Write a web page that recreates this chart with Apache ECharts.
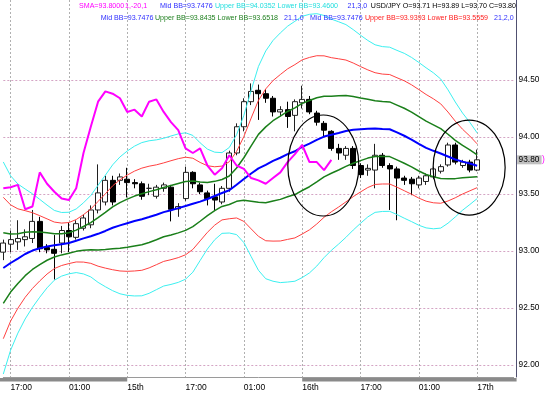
<!DOCTYPE html>
<html><head><meta charset="utf-8">
<script src="https://cdn.jsdelivr.net/npm/echarts@6/dist/echarts.min.js"></script>
<style>html,body{margin:0;padding:0;background:#fff}#c{width:549px;height:394px}</style>
</head><body><div id="c"></div>
<script>
// ---- data ----
const opens = [92.99, 93.06, 93.08, 93.10, 93.11, 93.26, 93.03, 93.015, 93.07, 93.18,
 93.12, 93.20, 93.23, 93.36, 93.43, 93.62, 93.62, 93.63, 93.60, 93.59,
 93.55, 93.48, 93.55, 93.56, 93.37, 93.46, 93.69, 93.58, 93.51, 93.475,
 93.43, 93.55, 93.86, 94.09, 94.31, 94.41, 94.38, 94.34, 94.22, 94.24,
 94.19, 94.30, 94.33, 94.21, 94.12, 94.05, 93.90, 93.84, 93.90, 93.75,
 93.71, 93.71, 93.84, 93.75, 93.72, 93.64, 93.63, 93.58, 93.61, 93.65,
 93.70, 93.755, 93.93, 93.75, 93.78, 93.71];
const closes = [93.07, 93.10, 93.11, 93.125, 93.26, 93.02, 93.01, 92.98, 93.18, 93.125,
 93.24, 93.29, 93.36, 93.51, 93.62, 93.43, 93.65, 93.60, 93.59, 93.48,
 93.55, 93.56, 93.58, 93.366, 93.39, 93.69, 93.59, 93.52, 93.46, 93.447,
 93.55, 93.86, 94.09, 94.31, 94.40, 94.38, 94.34, 94.22, 94.24, 94.18,
 94.31, 94.33, 94.22, 94.13, 94.06, 93.90, 93.86, 93.90, 93.75, 93.67,
 93.725, 93.84, 93.75, 93.72, 93.64, 93.62, 93.59, 93.64, 93.66, 93.72,
 93.74, 93.93, 93.78, 93.78, 93.71, 93.80];
const lows = [92.92, 92.99, 93.01, 93.04, 93.07, 92.99, 92.98, 92.75, 92.98, 92.99,
 93.10, 93.18, 93.20, 93.33, 93.40, 93.40, 93.58, 93.47, 93.55, 93.45,
 93.49, 93.46, 93.52, 93.26, 93.30, 93.44, 93.55, 93.50, 93.40, 93.36,
 93.41, 93.52, 93.84, 94.05, 94.28, 94.15, 94.30, 94.18, 94.18, 94.08,
 94.05, 94.25, 94.20, 94.10, 94.00, 93.88, 93.80, 93.80, 93.72, 93.64,
 93.66, 93.55, 93.73, 93.36, 93.27, 93.58, 93.49, 93.55, 93.58, 93.63,
 93.68, 93.74, 93.76, 93.73, 93.69, 93.70];
const highs = [93.10, 93.18, 93.27, 93.19, 93.36, 93.30, 93.06, 93.14, 93.22, 93.25,
 93.27, 93.32, 93.40, 93.76, 93.66, 93.66, 93.68, 93.73, 93.63, 93.61,
 93.59, 93.58, 93.60, 93.58, 93.42, 93.74, 93.70, 93.60, 93.53, 93.59,
 93.57, 93.88, 94.12, 94.34, 94.47, 94.46, 94.42, 94.36, 94.27, 94.31,
 94.33, 94.45, 94.36, 94.23, 94.14, 94.06, 93.94, 93.92, 93.92, 93.77,
 93.76, 93.94, 93.86, 93.77, 93.74, 93.66, 93.65, 93.66, 93.68, 93.74,
 93.76, 93.95, 93.95, 93.80, 93.80, 93.89];
// magenta SMA(1) shifted -20 bars
const smaShift = [93.55, 93.56, 93.58, 93.366, 93.39, 93.69, 93.59, 93.52, 93.46, 93.447,
 93.55, 93.86, 94.09, 94.31, 94.40, 94.38, 94.34, 94.22, 94.24, 94.18,
 94.31, 94.33, 94.22, 94.13, 94.06, 93.90, 93.86, 93.90, 93.75, 93.67,
 93.725, 93.84, 93.75, 93.72, 93.64, 93.62, 93.59, 93.64, 93.69, 93.78,
 93.85, 93.93, 93.78, 93.78, 93.71, 93.80];
// Bollinger mid (21) and one standard deviation
const bbMid = [92.851, 92.895, 92.934, 92.974, 93.004, 93.024, 93.040, 93.050, 93.059, 93.070,
 93.090, 93.111, 93.130, 93.151, 93.176, 93.204, 93.225, 93.244, 93.263, 93.279,
 93.298, 93.318, 93.341, 93.358, 93.376, 93.395, 93.414, 93.433, 93.456, 93.483,
 93.509, 93.533, 93.582, 93.632, 93.680, 93.725, 93.756, 93.791, 93.818, 93.850,
 93.875, 93.913, 93.942, 93.975, 94.004, 94.020, 94.036, 94.053, 94.063, 94.068,
 94.073, 94.074, 94.070, 94.068, 94.040, 94.011, 93.978, 93.940, 93.905, 93.879,
 93.855, 93.829, 93.803, 93.784, 93.768, 93.748];
const bbDev = [0.310, 0.255, 0.218, 0.190, 0.166, 0.143, 0.121, 0.102, 0.093, 0.090,
 0.093, 0.104, 0.119, 0.142, 0.163, 0.184, 0.200, 0.211, 0.219, 0.224,
 0.223, 0.219, 0.216, 0.217, 0.217, 0.214, 0.200, 0.172, 0.146, 0.128,
 0.118, 0.125, 0.146, 0.186, 0.243, 0.298, 0.333, 0.352, 0.365, 0.374,
 0.380, 0.382, 0.378, 0.369, 0.354, 0.338, 0.325, 0.311, 0.293, 0.275,
 0.258, 0.245, 0.241, 0.240, 0.240, 0.241, 0.240, 0.238, 0.234, 0.228,
 0.218, 0.195, 0.168, 0.142, 0.120, 0.096];
const tickBars = [1, 9, 17, 25, 33, 41, 49, 57, 65];
const tickLabels = ['17:00', '01:00', '15th', '17:00', '01:00', '16th', '17:00', '01:00', '17th'];
const yTicks = [92, 92.5, 93, 93.5, 94, 94.5];
const nCats = 71;
// annotation ellipses in data units (bar index, price)
const ellipses = [
  {bar: 43.9, price: 93.75, rBars: 4.87, rPrice: 0.443},
  {bar: 63.9, price: 93.732, rBars: 4.94, rPrice: 0.417}
];

// ---- build ----
const cats = Array.from({length: nCats}, (_, i) => String(i));
const ohlc = opens.map((o, i) => [o, closes[i], lows[i], highs[i]]);
const band = k => bbMid.map((m, i) => +(m + k * bbDev[i]).toFixed(4));
const isTick = i => tickBars.indexOf(i) >= 0;
const FONT = '"Liberation Sans", Arial, sans-serif';

function lineS(name, data, color, width, z) {
  return {type: 'line', name, data, showSymbol: false, symbol: 'none', z: z || 3,
    lineStyle: {color, width}, itemStyle: {color}, silent: true};
}

const chart = echarts.init(document.getElementById('c'), null, {renderer: 'canvas'});
chart.setOption({
  animation: false,
  backgroundColor: '#ffffff',
  grid: {left: 3.3, right: 35.4, top: 0, bottom: 17, containLabel: false},
  xAxis: {
    type: 'category', data: cats, boundaryGap: false,
    axisLine: {show: true, lineStyle: {color: '#9a9a9a', width: 1}},
    axisTick: {show: false},
    axisLabel: {interval: (i) => isTick(i), formatter: (v, i) => tickLabels[tickBars.indexOf(+v)] || '',
      align: 'left', fontSize: 8.5, color: '#000', margin: 6, fontFamily: FONT},
    splitLine: {show: true, interval: (i) => isTick(i), lineStyle: {color: '#b0b0b0', type: [2, 2], width: 1}}
  },
  yAxis: {
    type: 'value', position: 'right', offset: 3, min: 91.895, max: 95.2018,
    axisLine: {show: true, lineStyle: {color: '#505070', width: 1}},
    axisTick: {show: false, customValues: yTicks},
    axisLabel: {customValues: yTicks, formatter: v => Number(v).toFixed(2), fontSize: 8.3, color: '#000', margin: 2, fontFamily: FONT},
    splitLine: {show: true, lineStyle: {color: '#d4a4c4', type: [2, 2], width: 1}}
  },
  series: [
    {type: 'candlestick', data: ohlc, barWidth: 5.5, z: 2,
      itemStyle: {color: '#ffffff', color0: '#000000', borderColor: '#202020', borderColor0: '#000000', borderWidth: 1}},
    lineS('upper3', band(3), '#3cf0f0', 1),
    lineS('lower3', band(-3), '#3cf0f0', 1),
    lineS('upper2', band(2), '#ff4040', 1),
    lineS('lower2', band(-2), '#ff4040', 1),
    lineS('upper1', band(1), '#1a7f1a', 1.5),
    lineS('lower1', band(-1), '#1a7f1a', 1.5),
    lineS('mid', bbMid, '#0000ff', 2, 4),
    lineS('sma', smaShift, '#ff00ff', 2, 4)
  ]
});

// ---- annotations positioned through the axes ----
const x0 = chart.convertToPixel({xAxisIndex: 0}, 0);
const x70 = chart.convertToPixel({xAxisIndex: 0}, nCats - 1);
const bx = b => x0 + (x70 - x0) * b / (nCats - 1);
const py = p => chart.convertToPixel({yAxisIndex: 0}, p);
const axisX = x70 + 3;

const g = [];
ellipses.forEach(e => {
  const cx = bx(e.bar), cy = py(e.price);
  g.push({type: 'ellipse', z: 20, silent: true,
    shape: {cx, cy, rx: bx(e.bar + e.rBars) - cx, ry: py(e.price - e.rPrice) - cy},
    style: {fill: 'none', stroke: '#000', lineWidth: 1.2}});
});
// thick segments on the time axis
const yb = py(91.895);
g.push({type: 'rect', z: 5, silent: true, shape: {x: 0, y: yb + 1, width: bx(17), height: 3.4}, style: {fill: '#8a8a8a'}});
g.push({type: 'rect', z: 5, silent: true, shape: {x: bx(41), y: yb + 1, width: axisX - bx(41), height: 3.4}, style: {fill: '#8a8a8a'}});
// last price tag
const lastY = py(closes[closes.length - 1]);
g.push({type: 'rect', z: 6, silent: true, shape: {x: axisX + 0.5, y: lastY - 4.5, width: 24.5, height: 9}, style: {fill: '#c0c0c0'}});
g.push({type: 'text', z: 7, silent: true, style: {x: axisX + 2, y: lastY, text: closes[closes.length - 1].toFixed(2),
  font: '8.3px ' + FONT, fill: '#000', verticalAlign: 'middle'}});
g.push({type: 'text', z: 7, silent: true, style: {x: axisX + 25.5, y: lastY, text: ')',
  font: '8.5px ' + FONT, fill: '#ff00ff', verticalAlign: 'middle'}});
// header texts [x, y, text, colour, align]
const hdr = [
  [79, 6.1, 'SMA=93.8000', '#ff00ff', 'left'],
  [125, 6.1, '1,-20,1', '#ff00ff', 'left'],
  [160, 6.1, 'Mid BB=93.7476', '#3030ff', 'left'],
  [215, 6.1, 'Upper BB=94.0352 Lower BB=93.4600', '#20dede', 'left'],
  [347.5, 6.1, '21,3,0', '#3030ff', 'left'],
  [516, 6.1, 'USD/JPY O=93.71 H=93.89 L=93.70 C=93.80', '#000000', 'right'],
  [100.7, 18, 'Mid BB=93.7476', '#3030ff', 'left'],
  [155, 18, 'Upper BB=93.8435 Lower BB=93.6518', '#208020', 'left'],
  [284, 18, '21,1,0', '#3030ff', 'left'],
  [310, 18, 'Mid BB=93.7476', '#3030ff', 'left'],
  [365, 18, 'Upper BB=93.9393 Lower BB=93.5559', '#ff2020', 'left'],
  [494, 18, '21,2,0', '#3030ff', 'left']
];
hdr.forEach(h => g.push({type: 'text', z: 8, silent: true,
  style: {x: h[0], y: h[1], text: h[2], fill: h[3], font: '7.1px ' + FONT, verticalAlign: 'middle', align: h[4]}}));
chart.setOption({graphic: g});
</script>
</body></html>
